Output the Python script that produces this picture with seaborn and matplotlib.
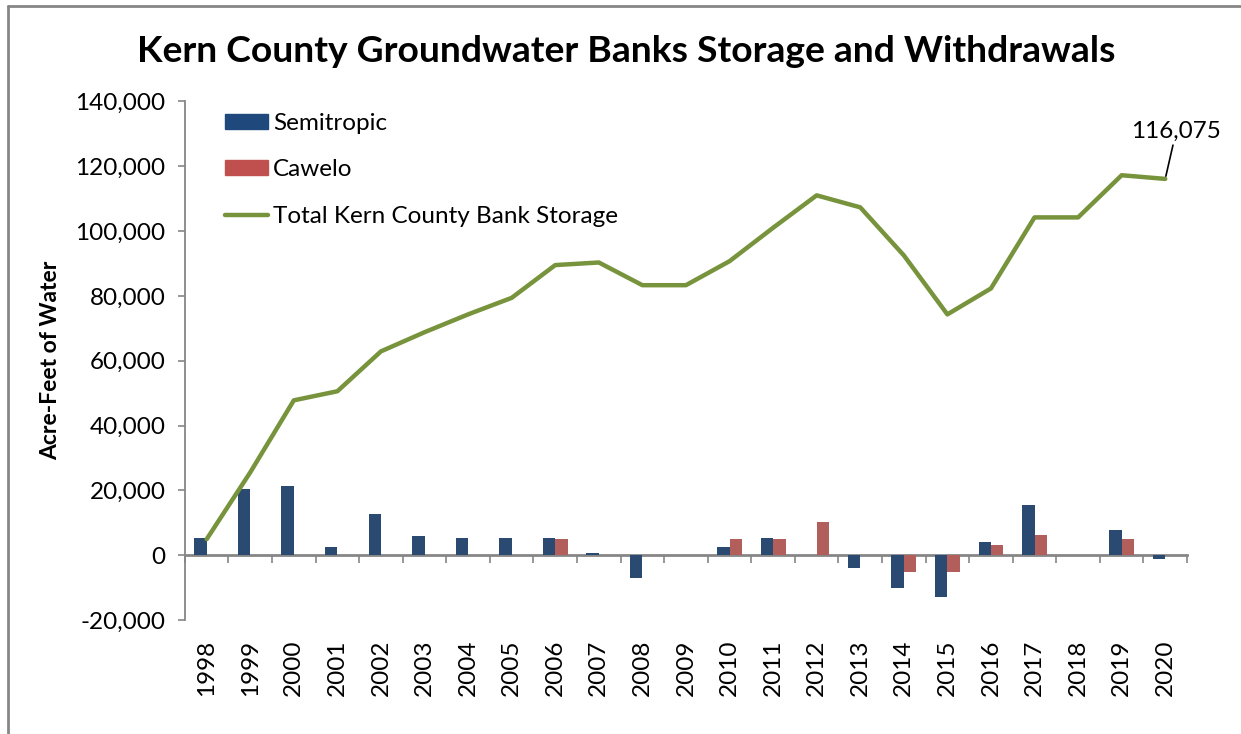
import numpy as np
import pandas as pd
import matplotlib
matplotlib.use("Agg")
import matplotlib.pyplot as plt
import seaborn as sns
from matplotlib.ticker import FuncFormatter
from matplotlib.lines import Line2D

years = list(range(1998, 2021))
semitropic = [5200, 20400, 21400, 2600, 12800, 5900, 5200, 5200, 5200, 600,
              -7000, 0, 2600, 5300, 0, -4000, -10000, -12900, 4200, 15600,
              0, 7900, -1000]
cawelo = [0, 0, 0, 0, 0, 0, 0, 0, 4900, 0,
          0, 0, 4900, 4900, 10300, 0, -5000, -5000, 3200, 6200,
          0, 4900, 0]
total_storage = [5000, 25600, 47800, 50600, 62900, 68800, 74300, 79400, 89500, 90300,
                 83300, 83300, 90700, 101000, 111000, 107300, 92500, 74300, 82300, 104200,
                 104200, 117200, 116075]
series_names = ["Semitropic", "Cawelo"]
line_name = "Total Kern County Bank Storage"
colors = {"Semitropic": "#1F497D", "Cawelo": "#C0504D"}
line_color = "#77933C"
title = "Kern County Groundwater Banks Storage and Withdrawals"
ylabel = "Acre-Feet of Water"
annot_text = "116,075"

sns.set_theme(style="white")
plt.rcParams['font.family'] = ['Lato', 'DejaVu Sans']
plt.rcParams['text.color'] = 'black'
plt.rcParams['axes.labelcolor'] = 'black'

df = pd.DataFrame({
    "year": years * 2,
    "bank": ["Semitropic"] * len(years) + ["Cawelo"] * len(years),
    "value": semitropic + cawelo,
})

fig = plt.figure(figsize=(12.41, 7.34), dpi=100)
ax = fig.add_axes([0.149, 0.155, 0.8075, 0.707])

sns.barplot(data=df, x="year", y="value", hue="bank", order=years,
            hue_order=series_names, palette=colors, width=0.57,
            linewidth=0, errorbar=None, ax=ax, legend=False)

pos = np.arange(len(years))
sns.lineplot(x=pos, y=total_storage, color=line_color, linewidth=3.2, ax=ax,
             legend=False)

ax.set_xlim(-0.5, len(years) - 0.5)
ax.set_ylim(-20000, 140000)
ax.set_yticks(np.arange(-20000, 140001, 20000))
ax.yaxis.set_major_formatter(FuncFormatter(lambda v, p: f"{int(v):,}"))
ax.tick_params(axis="y", which="major", left=True, length=5, width=1.2,
               color="#868686", labelsize=17.5, pad=9, labelcolor="black")
ax.set_xticks(pos)
ax.set_xticklabels([str(y) for y in years], rotation=90, fontsize=17.5)
ax.tick_params(axis="x", length=0, pad=14, labelcolor="black")
ax.set_xlabel("")
ax.set_ylabel(ylabel, fontsize=16.5, fontweight="bold", labelpad=10,
              color="black")

for s in ["top", "right", "bottom"]:
    ax.spines[s].set_visible(False)
ax.spines["left"].set_color("#868686")
ax.spines["left"].set_linewidth(1.3)

# zero axis with boundary ticks
sec = ax.secondary_xaxis(20000 / 160000)
sec.set_xticks(np.arange(-0.5, len(years), 1.0))
sec.set_xticklabels([])
sec.tick_params(direction="out", length=6, width=1.2, color="#868686")
sec.spines["bottom"].set_color("#868686")
sec.spines["bottom"].set_linewidth(2)

# legend
handles = [
    plt.Rectangle((0, 0), 1, 1, color=colors["Semitropic"]),
    plt.Rectangle((0, 0), 1, 1, color=colors["Cawelo"]),
    Line2D([0], [0], color=line_color, linewidth=3.2),
]
leg = ax.legend(handles, series_names + [line_name], loc="upper left",
                bbox_to_anchor=(0.04, 0.978), frameon=False, fontsize=17.5,
                borderaxespad=0, borderpad=0,
                handlelength=1.77, handleheight=0.58, handletextpad=0.2,
                labelspacing=1.05)
for t in leg.get_texts():
    t.set_color("black")

# annotation
ax.annotate(annot_text, xy=(pos[-1], total_storage[-1]),
            xytext=(pos[-1] + 0.25, 127500), fontsize=17.5, ha="center",
            va="bottom", color="black",
            arrowprops=dict(arrowstyle="-", color="black", lw=1.2,
                            shrinkA=0, shrinkB=2))

fig.text(0.505, 0.93, title, ha="center", va="center", fontsize=26.8,
         fontweight="bold", color="black")

# outer frame (top and left visible)
fig.add_artist(Line2D([0.0065, 0.0065], [0.0, 0.992], color="#868686",
                      linewidth=2, transform=fig.transFigure))
fig.add_artist(Line2D([0.0065, 1.0], [0.992, 0.992], color="#868686",
                      linewidth=2, transform=fig.transFigure))

fig.savefig("out.png", dpi=100)
